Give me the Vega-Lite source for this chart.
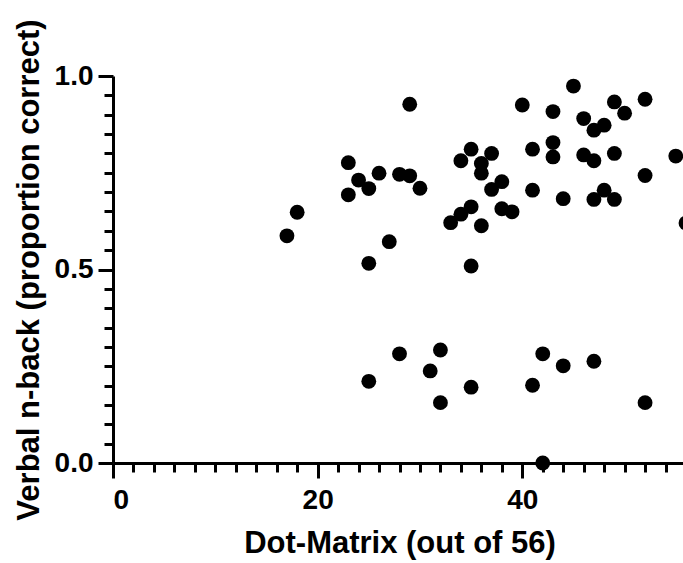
{
  "$schema": "https://vega.github.io/schema/vega-lite/v6.json",
  "width": 573,
  "height": 387,
  "autosize": {"type": "none"},
  "padding": {"left": 113, "top": 76, "right": 0, "bottom": 100},
  "background": "white",
  "config": {
    "view": {"stroke": null},
    "font": "Liberation Sans",
    "axis": {
      "domainColor": "black", "domainWidth": 3, "tickColor": "black", "tickWidth": 3,
      "labelColor": "black", "titleColor": "black", "labelFont": "Liberation Sans", "titleFont": "Liberation Sans",
      "labelFontWeight": "bold", "titleFontWeight": "bold", "labelFontSize": 28, "titleFontSize": 31, "grid": false
    }
  },
  "data": {"values": [
    {"dm": 45, "nback": 0.974}, {"dm": 52, "nback": 0.940}, {"dm": 49, "nback": 0.933}, {"dm": 40, "nback": 0.925},
    {"dm": 43, "nback": 0.908}, {"dm": 29, "nback": 0.927}, {"dm": 50, "nback": 0.904}, {"dm": 46, "nback": 0.890},
    {"dm": 48, "nback": 0.873}, {"dm": 47, "nback": 0.860}, {"dm": 41, "nback": 0.811}, {"dm": 43, "nback": 0.828},
    {"dm": 43, "nback": 0.791}, {"dm": 46, "nback": 0.796}, {"dm": 47, "nback": 0.781}, {"dm": 49, "nback": 0.800},
    {"dm": 55, "nback": 0.793}, {"dm": 52, "nback": 0.743}, {"dm": 56, "nback": 0.620}, {"dm": 23, "nback": 0.776},
    {"dm": 24, "nback": 0.731}, {"dm": 25, "nback": 0.709}, {"dm": 26, "nback": 0.749}, {"dm": 28, "nback": 0.746},
    {"dm": 29, "nback": 0.742}, {"dm": 30, "nback": 0.710}, {"dm": 23, "nback": 0.693}, {"dm": 18, "nback": 0.648},
    {"dm": 17, "nback": 0.587}, {"dm": 27, "nback": 0.572}, {"dm": 25, "nback": 0.516}, {"dm": 35, "nback": 0.811},
    {"dm": 37, "nback": 0.800}, {"dm": 34, "nback": 0.781}, {"dm": 36, "nback": 0.774}, {"dm": 36, "nback": 0.749},
    {"dm": 38, "nback": 0.727}, {"dm": 37, "nback": 0.707}, {"dm": 41, "nback": 0.705}, {"dm": 44, "nback": 0.683},
    {"dm": 47, "nback": 0.681}, {"dm": 48, "nback": 0.705}, {"dm": 49, "nback": 0.681}, {"dm": 35, "nback": 0.662},
    {"dm": 34, "nback": 0.643}, {"dm": 33, "nback": 0.621}, {"dm": 38, "nback": 0.657}, {"dm": 39, "nback": 0.649},
    {"dm": 36, "nback": 0.613}, {"dm": 35, "nback": 0.509},
    {"dm": 28, "nback": 0.282}, {"dm": 32, "nback": 0.292}, {"dm": 31, "nback": 0.238}, {"dm": 25, "nback": 0.211},
    {"dm": 32, "nback": 0.156}, {"dm": 35, "nback": 0.196}, {"dm": 42, "nback": 0.282}, {"dm": 44, "nback": 0.251},
    {"dm": 47, "nback": 0.263}, {"dm": 41, "nback": 0.201}, {"dm": 52, "nback": 0.156}, {"dm": 42, "nback": 0.0}
  ]},
  "layer": [
    {
      "mark": {"type": "point", "opacity": 0},
      "encoding": {
        "x": {"field": "dm", "type": "quantitative", "scale": {"domain": [0, 56], "nice": false},
          "axis": {"orient": "bottom", "values": [2,4,6,8,10,12,14,16,18,22,24,26,28,30,32,34,36,38,42,44,46,48,50,52,54],
            "labels": false, "domain": false, "tickSize": 9, "title": null}},
        "y": {"field": "nback", "type": "quantitative", "scale": {"domain": [0, 1], "nice": false},
          "axis": {"orient": "left", "values": [0.05,0.1,0.15,0.2,0.25,0.3,0.35,0.4,0.45,0.55,0.6,0.65,0.7,0.75,0.8,0.85,0.9,0.95],
            "labels": false, "domain": false, "tickSize": 9, "title": null}}
      }
    },
    {
      "mark": {"type": "circle", "size": 220, "color": "black", "opacity": 1},
      "encoding": {
        "x": {"field": "dm", "type": "quantitative", "scale": {"domain": [0, 56], "nice": false},
          "axis": {"orient": "bottom", "values": [0, 20, 40], "tickSize": 15, "labelPadding": 8, "title": "Dot-Matrix (out of 56)", "titlePadding": 14}},
        "y": {"field": "nback", "type": "quantitative", "scale": {"domain": [0, 1], "nice": false},
          "axis": {"orient": "left", "values": [0, 0.5, 1], "format": ".1f", "tickSize": 15, "labelPadding": 5, "title": "Verbal n-back (proportion correct)", "titlePadding": 9}}
      }
    }
  ],
  "resolve": {"axis": {"x": "independent", "y": "independent"}}
}
